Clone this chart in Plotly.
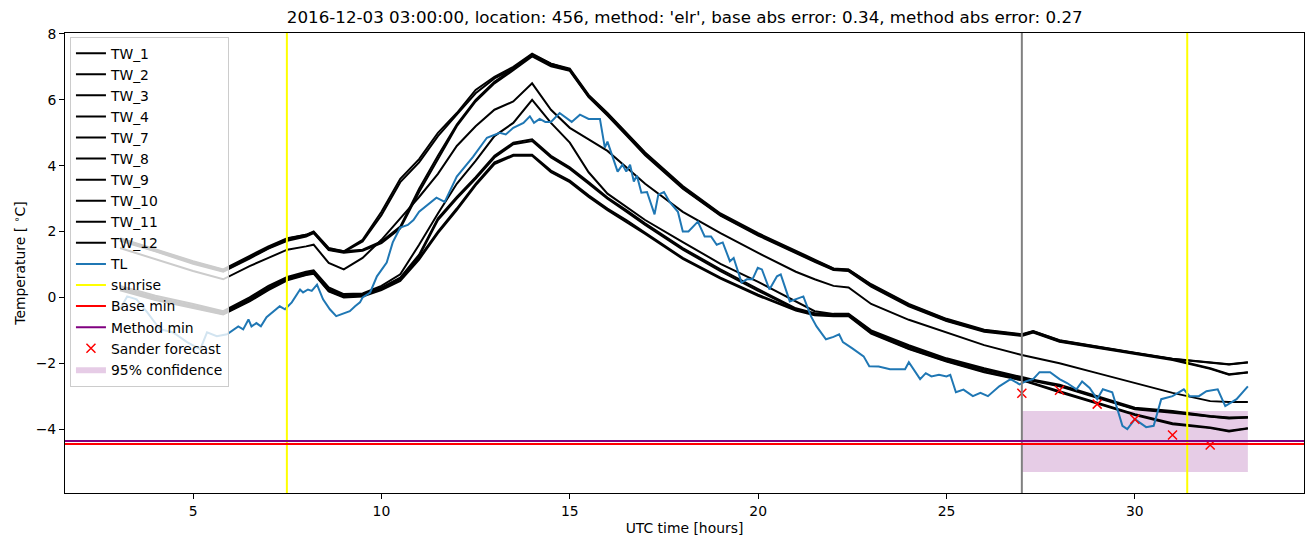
import plotly.graph_objects as go

# ---------------- data ----------------
tw_hours = [3.06, 4, 5, 5.8, 6.5, 7, 7.5, 8, 8.2, 8.6, 9, 9.5, 10, 10.5, 11, 11.5, 12, 12.5, 13, 13.5,
            14, 14.5, 15, 15.5, 16, 16.5, 17, 18, 19, 20, 21, 21.5, 22, 22.4, 23, 24, 25, 26, 27, 27.3,
            28, 29, 30, 31, 32, 32.5, 33]

tw_1 = [1.8, 1.45, 1.1, 0.85, 1.25, 1.55, 1.8, 1.9, 2.0, 1.5, 1.4, 1.75, 2.6, 3.6, 4.2, 5.0, 5.6, 6.3, 6.7, 7.0,
        7.4, 7.1, 6.95, 6.15, 5.6, 5.0, 4.4, 3.38, 2.55, 1.95, 1.4, 1.15, 0.88, 0.85, 0.4, -0.2, -0.65, -0.98, -1.12, -1.02,
        -1.3, -1.5, -1.68, -1.86, -1.97, -2.03, -1.97]
tw_2 = [1.75, 1.42, 1.05, 0.8, 1.2, 1.5, 1.75, 1.88, 1.97, 1.45, 1.38, 1.7, 2.5, 3.5, 4.1, 4.9, 5.55, 6.2, 6.65, 6.95,
        7.35, 7.05, 6.9, 6.1, 5.55, 4.95, 4.35, 3.32, 2.5, 1.9, 1.35, 1.1, 0.85, 0.82, 0.35, -0.25, -0.7, -1.02, -1.15, -1.05,
        -1.33, -1.52, -1.7, -1.88, -2.15, -2.33, -2.27]
tw_3 = [1.78, 1.44, 1.08, 0.83, 1.22, 1.52, 1.78, 1.9, 1.98, 1.48, 1.4, 1.45, 1.7, 2.15, 3.3, 4.3, 5.25, 6.0, 6.55, 6.95,
        7.38, 7.1, 6.92, 6.12, 5.58, 4.98, 4.38, 3.35, 2.52, 1.92, 1.38, 1.12, 0.87, 0.84, 0.38, -0.22, -0.67, -1.0, -1.13, -1.03,
        -1.31, -1.51, -1.69, -1.87, -1.98, -2.04, -1.98]
tw_4 = [1.72, 1.4, 1.02, 0.78, 1.18, 1.48, 1.72, 1.85, 1.95, 1.44, 1.36, 1.42, 1.65, 2.1, 3.2, 4.2, 5.2, 5.95, 6.5, 6.9,
        7.32, 7.02, 6.88, 6.08, 5.52, 4.92, 4.32, 3.3, 2.48, 1.88, 1.33, 1.08, 0.83, 0.8, 0.33, -0.27, -0.72, -1.04, -1.17, -1.07,
        -1.35, -1.54, -1.72, -1.9, -2.17, -2.35, -2.28]
tw_7 = [1.5, 1.15, 0.8, 0.55, 0.95, 1.2, 1.45, 1.55, 1.6, 1.05, 0.85, 1.2, 1.75, 2.4, 3.05, 3.75, 4.6, 5.2, 5.7, 5.95,
        6.5, 5.7, 5.15, 4.8, 4.45, 3.95, 3.45, 2.6, 1.95, 1.35, 0.78, 0.55, 0.35, 0.3, -0.2, -0.68, -1.07, -1.45, -1.75, -1.82,
        -2.0, -2.3, -2.6, -2.9, -3.15, -3.18, -3.18]
tw_8 = [0.35, 0.05, -0.2, -0.42, 0.0, 0.35, 0.62, 0.78, 0.82, 0.3, 0.1, 0.12, 0.35, 0.7, 1.6, 2.55, 3.45, 4.15, 4.9, 5.3,
        6.0, 5.3, 4.7, 3.8, 3.15, 2.75, 2.35, 1.68, 1.02, 0.47, -0.12, -0.42, -0.5, -0.5, -1.0, -1.45, -1.85, -2.15, -2.42, -2.5,
        -2.65, -3.0, -3.35, -3.45, -3.6, -3.65, -3.64]
tw_9 = [0.3, 0.0, -0.25, -0.45, -0.05, 0.3, 0.6, 0.75, 0.8, 0.25, 0.08, 0.1, 0.3, 0.6, 1.3, 2.4, 3.05, 3.65, 4.3, 4.7,
        4.8, 4.3, 3.95, 3.5, 3.03, 2.65, 2.25, 1.5, 0.85, 0.25, -0.33, -0.48, -0.52, -0.52, -1.03, -1.48, -1.88, -2.18, -2.45, -2.52,
        -2.68, -3.02, -3.38, -3.47, -3.62, -3.66, -3.64]
tw_10 = [0.28, -0.02, -0.27, -0.47, -0.07, 0.28, 0.58, 0.73, 0.78, 0.22, 0.05, 0.08, 0.28, 0.58, 1.25, 2.35, 3.0, 3.6, 4.25, 4.65,
         4.75, 4.25, 3.9, 3.45, 3.0, 2.6, 2.2, 1.45, 0.8, 0.2, -0.36, -0.5, -0.53, -0.53, -1.05, -1.5, -1.9, -2.2, -2.47, -2.54,
         -2.7, -3.04, -3.4, -3.5, -3.63, -3.68, -3.65]
tw_11 = [0.25, -0.05, -0.3, -0.5, -0.1, 0.25, 0.55, 0.7, 0.75, 0.2, 0.02, 0.05, 0.25, 0.55, 1.2, 2.0, 2.7, 3.45, 4.1, 4.33,
         4.33, 3.85, 3.55, 3.1, 2.7, 2.35, 1.97, 1.2, 0.6, 0.08, -0.38, -0.52, -0.55, -0.55, -1.08, -1.55, -1.93, -2.25, -2.5, -2.6,
         -2.85, -3.2, -3.55, -3.82, -3.95, -4.05, -3.97]
tw_12 = [0.22, -0.08, -0.32, -0.52, -0.12, 0.22, 0.52, 0.68, 0.72, 0.18, 0.0, 0.03, 0.22, 0.5, 1.15, 1.95, 2.65, 3.4, 4.05, 4.3,
         4.3, 3.8, 3.5, 3.05, 2.65, 2.3, 1.93, 1.17, 0.57, 0.05, -0.4, -0.54, -0.57, -0.57, -1.1, -1.57, -1.95, -2.27, -2.52, -2.62,
         -2.88, -3.22, -3.57, -3.85, -3.97, -4.07, -3.98]

tw_series = {
    "TW_1": tw_1, "TW_2": tw_2, "TW_3": tw_3, "TW_4": tw_4, "TW_7": tw_7,
    "TW_8": tw_8, "TW_9": tw_9, "TW_10": tw_10, "TW_11": tw_11, "TW_12": tw_12,
}

tl_hours = [3.06, 3.25, 3.5, 3.78, 4.12, 4.47, 4.84, 5.19, 5.37, 5.63, 5.9, 6.06, 6.2, 6.33, 6.47, 6.55, 6.68, 6.8,
            6.95, 7.3, 7.44, 7.62, 7.84, 7.92, 8.05, 8.15, 8.29, 8.45, 8.63, 8.8, 8.98, 9.16, 9.3, 9.43, 9.5, 9.7,
            9.88, 10.14, 10.3, 10.5, 10.7, 10.85, 11.0, 11.46, 11.68, 12.0, 12.43, 12.8, 13.14, 13.3, 13.5, 13.77,
            13.94, 14.05, 14.2, 14.35, 14.5, 14.73, 15.05, 15.27, 15.5, 15.8, 15.93, 16.0, 16.27, 16.4, 16.5, 16.6,
            16.7, 16.78, 16.9, 17.05, 17.25, 17.35, 17.5, 17.65, 17.87, 18.0, 18.15, 18.4, 18.58, 18.75, 18.9, 19.06,
            19.25, 19.35, 19.56, 19.7, 19.85, 19.99, 20.1, 20.3, 20.5, 20.6, 20.84, 21.0, 21.2, 21.4, 21.55, 21.8,
            22.0, 22.15, 22.25, 22.5, 22.8, 22.95, 23.2, 23.5, 23.9, 24.0, 24.3, 24.45, 24.6, 24.8, 25.0, 25.1, 25.25,
            25.45, 25.7, 25.9, 26.1, 26.4, 26.7, 26.94, 27.1, 27.3, 27.47, 27.75, 28.0, 28.2, 28.45, 28.6, 28.8, 29.0,
            29.15, 29.4, 29.67, 29.8, 30.0, 30.3, 30.5, 30.7, 31.0, 31.3, 31.45, 31.7, 31.9, 32.2, 32.4, 32.7, 33.0]
tl_temp = [-0.36, 0.03, -0.06, -0.45, -0.97, -1.06, -1.36, -1.58, -1.06, -1.18, -1.12, -1.0, -0.88, -0.97, -0.67, -0.88,
           -0.78, -0.88, -0.6, -0.27, -0.36, -0.15, 0.24, 0.15, 0.24, 0.2, 0.39, -0.06, -0.36, -0.57, -0.5, -0.42, -0.27,
           -0.15, 0.0, 0.15, 0.64, 1.06, 1.67, 2.12, 2.2, 2.35, 2.6, 3.03, 2.9, 3.67, 4.27, 4.85, 5.0, 4.95, 5.15, 5.3,
           5.5, 5.3, 5.42, 5.33, 5.33, 5.6, 5.33, 5.55, 5.42, 5.42, 4.55, 4.73, 3.82, 4.03, 3.82, 4.03, 3.52, 3.7, 3.18,
           3.2, 2.52, 3.12, 3.2, 2.9, 2.6, 2.0, 2.0, 2.3, 1.85, 1.85, 1.6, 1.67, 1.1, 1.2, 0.45, 0.55, 0.55, 0.9, 0.85,
           0.24, 0.64, 0.7, -0.12, -0.05, 0.03, -0.57, -0.88, -1.27, -1.2, -1.12, -1.36, -1.55, -1.79, -2.09, -2.1,
           -2.18, -2.18, -1.97, -2.48, -2.3, -2.4, -2.35, -2.4, -2.35, -2.88, -2.8, -3.0, -2.9, -3.0, -2.7, -2.48,
           -2.64, -2.55, -2.48, -2.27, -2.27, -2.48, -2.6, -2.79, -2.55, -2.75, -3.09, -2.79, -2.88, -3.9, -4.0, -3.7,
           -3.94, -3.9, -3.09, -3.0, -2.79, -3.0, -3.0, -2.85, -2.79, -3.3, -3.09, -2.7]

sunrise_hours = [7.49, 31.39]
forecast_hour = 27.0
base_min = -4.45
method_min = -4.36

sander_hours = [27, 28, 29, 30, 31, 32]
sander_temp = [-2.91, -2.82, -3.24, -3.70, -4.18, -4.48]

conf_hours = [27, 33]
conf_low = [-5.3, -5.3]
conf_high = [-3.45, -3.45]

title = "2016-12-03 03:00:00, location: 456, method: 'elr', base abs error: 0.34, method abs error: 0.27"

# ---------------- figure ----------------
FONT = "DejaVu Sans"
FS = 13.9
fig = go.Figure()

# confidence band drawn first (beneath the lines), listed last in legend
fig.add_trace(go.Scatter(
    x=conf_hours + conf_hours[::-1], y=conf_high + conf_low[::-1],
    fill="toself", fillcolor="rgba(128,0,128,0.2)", line=dict(width=0),
    mode="lines", name="95% confidence", legendgroup="conf", legendrank=16,
    hoverinfo="skip"))

rank = 1
for name, vals in tw_series.items():
    fig.add_trace(go.Scatter(x=tw_hours, y=vals, mode="lines", name=name,
                             line=dict(color="black", width=2),
                             legendgroup=name, legendrank=rank))
    rank += 1

fig.add_trace(go.Scatter(x=tl_hours, y=tl_temp, mode="lines", name="TL",
                         line=dict(color="#1f77b4", width=2), legendgroup="TL", legendrank=11))

fig.add_trace(go.Scatter(x=sander_hours, y=sander_temp, mode="markers", name="Sander forecast",
                         marker=dict(symbol="x-thin", size=9, line=dict(color="red", width=1.5)),
                         legendgroup="sander", legendrank=15))

# vertical / horizontal reference lines
for i, h in enumerate(sunrise_hours):
    fig.add_shape(type="line", xref="x", yref="paper", x0=h, x1=h, y0=0, y1=1,
                  line=dict(color="yellow", width=2), name="sunrise",
                  showlegend=(i == 0), legendgroup="sunrise", legendrank=12)
fig.add_shape(type="line", xref="x", yref="paper", x0=forecast_hour, x1=forecast_hour, y0=0, y1=1,
              line=dict(color="gray", width=2), showlegend=False)
fig.add_shape(type="line", xref="paper", yref="y", x0=0, x1=1, y0=base_min, y1=base_min,
              line=dict(color="red", width=2), name="Base min", showlegend=True,
              legendgroup="base", legendrank=13)
fig.add_shape(type="line", xref="paper", yref="y", x0=0, x1=1, y0=method_min, y1=method_min,
              line=dict(color="purple", width=2), name="Method min", showlegend=True,
              legendgroup="method", legendrank=14)

axis_common = dict(showline=True, mirror=True, linecolor="black", linewidth=1,
                   ticks="outside", ticklen=5, tickwidth=1, tickcolor="black",
                   showgrid=False, zeroline=False,
                   tickfont=dict(family=FONT, size=FS, color="black"))

fig.update_layout(
    width=1313, height=547,
    margin=dict(l=65, r=9, t=33, b=54),
    plot_bgcolor="white", paper_bgcolor="white",
    font=dict(family=FONT, size=FS, color="black"),
    title=dict(text=title, x=0.5215, xanchor="center", y=1 - 17 / 547, yanchor="middle",
               yref="container", font=dict(family=FONT, size=16.7, color="black")),
    xaxis=dict(range=[1.6, 34.49], tickvals=[5, 10, 15, 20, 25, 30],
               title=dict(text="UTC time [hours]", standoff=5, font=dict(family=FONT, size=FS)),
               **axis_common),
    yaxis=dict(range=[-5.94, 8.03], tickvals=[-4, -2, 0, 2, 4, 6, 8],
               ticktext=["\u22124", "\u22122", "0", "2", "4", "6", "8"],
               title=dict(text="Temperature [ <sup>\u2218</sup>C]", standoff=6, font=dict(family=FONT, size=FS)),
               **axis_common),
    legend=dict(x=0.004, y=0.992, xanchor="left", yanchor="top",
                bgcolor="rgba(255,255,255,0.8)", bordercolor="#cccccc", borderwidth=1,
                font=dict(family=FONT, size=FS), tracegroupgap=2, traceorder="normal",
                itemwidth=30),
    showlegend=True,
)

fig.write_html("out.html")
